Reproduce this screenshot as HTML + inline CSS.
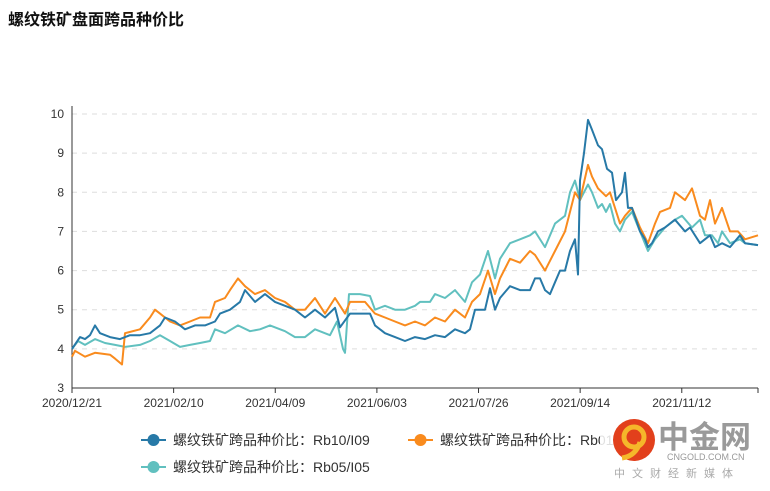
<!DOCTYPE html>
<html><head><meta charset="utf-8"><style>
body{margin:0;background:#fff;width:770px;height:486px;overflow:hidden;font-family:"Liberation Sans","Noto Sans CJK SC",sans-serif;}
</style></head><body>
<svg id="c" width="770" height="486" xmlns="http://www.w3.org/2000/svg">
<text x="8" y="25" font-size="16" font-weight="bold" fill="#111">螺纹铁矿盘面跨品种价比</text>
</svg>
<script>
const yTicks=[3,4,5,6,7,8,9,10];
const xTickLabels=["2020/12/21","2021/02/10","2021/04/09","2021/06/03","2021/07/26","2021/09/14","2021/11/12"];
const blueT=[0,8,13,18,23,28,38,48,58,68,78,88,93,103,113,123,133,143,148,158,168,173,183,193,203,213,223,233,243,253,263,268,278,298,303,313,323,333,343,353,363,373,383,393,398,403,413,418,423,428,438,448,458,463,468,473,478,483,488,493,498,503,506,508,512,516,520,526,530,535,540,544,550,553,556,560,568,573,576,580,586,593,603,613,618,628,638,643,650,658,668,673,686];
const blueV=[4.0,4.3,4.25,4.35,4.6,4.4,4.3,4.25,4.35,4.35,4.4,4.6,4.8,4.7,4.5,4.6,4.6,4.7,4.9,5.0,5.2,5.5,5.2,5.4,5.2,5.1,5.0,4.8,5.0,4.8,5.05,4.55,4.9,4.9,4.6,4.4,4.3,4.2,4.3,4.25,4.35,4.3,4.5,4.4,4.5,5.0,5.0,5.55,5.0,5.3,5.6,5.5,5.5,5.8,5.8,5.5,5.4,5.7,6.0,6.0,6.5,6.8,5.9,8.3,9.0,9.85,9.6,9.2,9.1,8.6,8.5,7.8,8.0,8.5,7.6,7.6,7.0,6.8,6.6,6.7,7.0,7.1,7.3,7.0,7.1,6.7,6.9,6.6,6.7,6.6,6.9,6.7,6.65];
const orangeT=[0,3,13,23,38,43,50,53,68,78,83,88,98,108,118,128,138,143,153,158,166,173,183,193,203,213,223,233,243,253,263,273,278,293,303,313,323,333,343,353,363,373,383,393,400,408,416,423,428,438,448,458,463,473,483,493,498,503,508,516,520,526,530,534,538,543,548,553,560,568,576,583,588,598,603,613,620,628,633,638,643,650,658,666,673,686];
const orangeV=[3.8,3.95,3.8,3.9,3.85,3.75,3.6,4.4,4.5,4.8,5.0,4.9,4.7,4.6,4.7,4.8,4.8,5.2,5.3,5.5,5.8,5.6,5.4,5.5,5.3,5.2,5.0,5.0,5.3,4.9,5.3,4.9,5.2,5.2,4.9,4.8,4.7,4.6,4.7,4.6,4.8,4.7,5.0,4.8,5.2,5.4,6.0,5.4,5.8,6.3,6.2,6.5,6.4,6.0,6.5,7.0,7.5,8.0,7.8,8.7,8.4,8.1,8.0,7.9,8.0,7.6,7.2,7.4,7.6,7.1,6.7,7.2,7.5,7.6,8.0,7.8,8.1,7.4,7.3,7.8,7.2,7.6,7.0,7.0,6.8,6.9];
const tealT=[0,6,13,23,33,43,53,68,78,88,98,108,118,128,138,143,153,166,178,188,198,213,223,233,243,258,265,271,273,277,288,298,303,313,323,333,343,348,358,363,373,383,393,400,408,416,423,428,438,448,458,463,473,483,493,498,503,508,516,520,526,530,534,538,543,548,553,560,568,576,583,593,603,610,620,628,633,640,646,650,658,668,673,686];
const tealV=[4.0,4.2,4.1,4.25,4.15,4.1,4.05,4.1,4.2,4.35,4.2,4.05,4.1,4.15,4.2,4.5,4.4,4.6,4.45,4.5,4.6,4.45,4.3,4.3,4.5,4.35,4.7,4.0,3.9,5.4,5.4,5.35,5.0,5.1,5.0,5.0,5.1,5.2,5.2,5.4,5.3,5.5,5.2,5.7,5.9,6.5,5.8,6.3,6.7,6.8,6.9,7.0,6.6,7.2,7.4,8.0,8.3,7.8,8.2,8.0,7.6,7.7,7.5,7.7,7.2,7.0,7.3,7.5,7.0,6.5,6.8,7.1,7.3,7.4,7.1,7.3,6.9,6.9,6.7,7.0,6.7,6.8,6.7,6.65];

const svg=document.getElementById('c');const NS='http://www.w3.org/2000/svg';
const L=72,R=758,T=114,B=388;
const x=t=>L+(t/686)*(R-L);
const y=v=>B-(v-3)/7*(B-T);
function mk(tag,at){const e=document.createElementNS(NS,tag);for(const k in at)e.setAttribute(k,at[k]);svg.appendChild(e);return e;}
yTicks.forEach(v=>{
 if(v>3){const g=mk('line',{x1:L,x2:R,y1:y(v),y2:y(v),stroke:'#ddd','stroke-dasharray':'5,5'});
 
 }
 const t=mk('text',{x:L-8,y:y(v)+4,'text-anchor':'end','font-size':12,fill:'#333'});t.textContent=v;
 
 
});
const ax=mk('line',{x1:L,x2:L,y1:T-8,y2:B,stroke:'#333'});


const xa=mk('line',{x1:L,x2:R,y1:B,y2:B,stroke:'#333'});


const step=(R-L)/6.75;
xTickLabels.forEach((s,i)=>{
 const px=L+i*step;
 const tk=mk('line',{x1:px,x2:px,y1:B,y2:B+5,stroke:'#333'});
 
 
 const t=mk('text',{x:px,y:B+19,'text-anchor':'middle','font-size':12,fill:'#333'});t.textContent=s;
 
 
});
const endTk=mk('line',{x1:R,x2:R,y1:B,y2:B+5,stroke:'#333'});


function line(T_,V,col,name){
 const n=Math.min(T_.length,V.length);let d='';
 for(let i=0;i<n;i++)d+=(i?'L':'M')+x(T_[i]).toFixed(1)+','+y(V[i]).toFixed(1);
 const p=mk('path',{d:d,fill:'none',stroke:col,'stroke-width':2,'stroke-linejoin':'round'});
 
 
}
line(tealT,tealV,'#61c0bf','series-rb05-i05');
line(orangeT,orangeV,'#f98b1e','series-rb01-i01');
line(blueT,blueV,'#2779a7','series-rb10-i09');
function leg(lx,ly,col,label,name){
 const g=document.createElementNS(NS,'g');svg.appendChild(g);
 
 
 const l=document.createElementNS(NS,'line');l.setAttribute('x1',lx);l.setAttribute('x2',lx+25);l.setAttribute('y1',ly);l.setAttribute('y2',ly);l.setAttribute('stroke',col);l.setAttribute('stroke-width',2);g.appendChild(l);
 const c=document.createElementNS(NS,'circle');c.setAttribute('cx',lx+12.5);c.setAttribute('cy',ly);c.setAttribute('r',6);c.setAttribute('fill',col);g.appendChild(c);
 const t=document.createElementNS(NS,'text');t.setAttribute('x',lx+32);t.setAttribute('y',ly+5);t.setAttribute('font-size',14);t.setAttribute('fill','#333');t.textContent=label;g.appendChild(t);
}
leg(141,440,'#2779a7','螺纹铁矿跨品种价比：Rb10/I09','legend-rb10-i09');
leg(408,440,'#f98b1e','螺纹铁矿跨品种价比：Rb01/I01','legend-rb01-i01');
leg(141,467,'#61c0bf','螺纹铁矿跨品种价比：Rb05/I05','legend-rb05-i05');
</script>
<svg width="770" height="486" style="position:absolute;left:0;top:0">
<rect x="600" y="418" width="170" height="68" fill="#fff" opacity="0.85"/>
<circle cx="634" cy="440" r="21" fill="#e2401c"/>
<circle cx="634" cy="437" r="10" fill="none" stroke="#f5b72a" stroke-width="5"/>
<path d="M640 442 Q636 456 622 458" fill="none" stroke="#f5b72a" stroke-width="5"/>
<text x="658" y="448" font-size="31" font-weight="bold" fill="#9a9a9a" font-family="'Noto Sans CJK SC',sans-serif">中金网</text>
<text x="667" y="460" font-size="9" fill="#999">CNGOLD.COM.CN</text>
<text x="614" y="477" font-size="11" fill="#aaa" letter-spacing="7" font-family="'Noto Sans CJK SC',sans-serif">中文财经新媒体</text>
</svg>
</body></html>
